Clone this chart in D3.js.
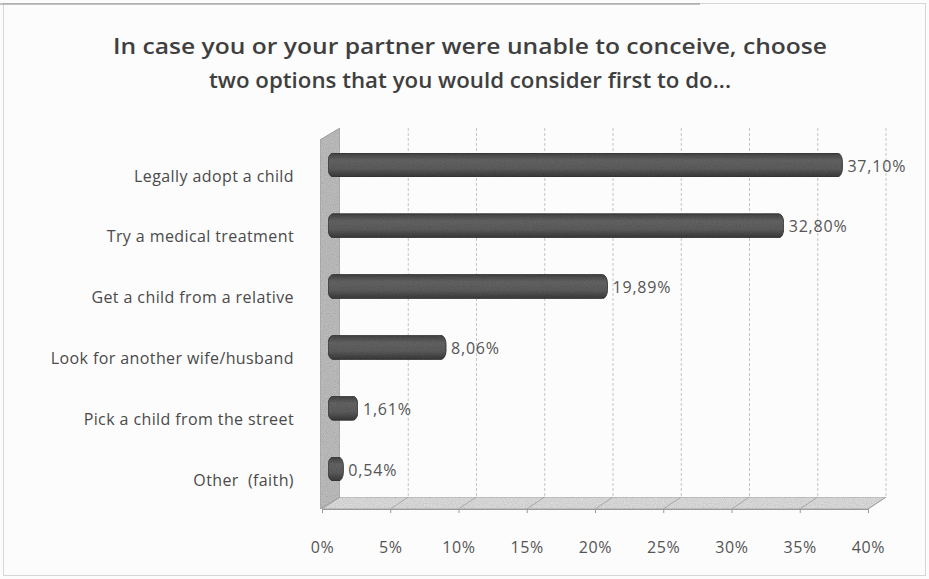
<!DOCTYPE html>
<html>
<head>
<meta charset="utf-8">
<script src="https://cdn.jsdelivr.net/npm/d3@7"></script>
<style>
  body { margin: 0; background: #fff; }
  svg { display: block; font-family: "Open Sans", Lato, sans-serif; }
</style>
</head>
<body>
<svg id="chart" width="929" height="579"></svg>
<script>
// chart data
const categories = [
    "Legally adopt a child",
    "Try a medical treatment",
    "Get a child from a relative",
    "Look for another wife/husband",
    "Pick a child from the street",
    "Other  (faith)"
];
const values = [37.10, 32.80, 19.89, 8.06, 1.61, 0.54];
const valueLabels = ["37,10%", "32,80%", "19,89%", "8,06%", "1,61%", "0,54%"];
const ticks = [0, 5, 10, 15, 20, 25, 30, 35, 40];
const titleLines = [
    "In case you or your partner were unable to conceive, choose",
    "two options that you would consider first to do..."
];

const svg = d3.select("#chart");
const W = 929, H = 579;

// 3d-ish plot box
const floorY = 509, topY = 140;
const depth = {dx: 18, dy: -12};

const x = d3.scaleLinear().domain([0, 40]).range([322, 868]);
const y = d3.scalePoint().domain(categories).range([165, 469]);

const defs = svg.append("defs");

let noise = defs.append("filter").attr("id", "grain")
    .attr("x", 0).attr("y", 0).attr("width", "100%").attr("height", "100%");
noise.append("feTurbulence").attr("type", "fractalNoise")
    .attr("baseFrequency", 0.9).attr("numOctaves", 2).attr("seed", 3).attr("result", "n");
noise.append("feColorMatrix").attr("in", "n").attr("type", "matrix")
    .attr("values", "0 0 0 0 0  0 0 0 0 0  0 0 0 0 0  0 0 0 0.35 0").attr("result", "a");
noise.append("feComposite").attr("in", "a").attr("in2", "SourceGraphic").attr("operator", "in").attr("result", "b");
let merge = noise.append("feMerge");
merge.append("feMergeNode").attr("in", "SourceGraphic");
merge.append("feMergeNode").attr("in", "b");

let grad = defs.append("linearGradient").attr("id", "barGrad")
    .attr("x1", 0).attr("y1", 0).attr("x2", 0).attr("y2", 1);
grad.append("stop").attr("offset", "0%").attr("stop-color", "#474747");
grad.append("stop").attr("offset", "30%").attr("stop-color", "#696969");
grad.append("stop").attr("offset", "65%").attr("stop-color", "#626262");
grad.append("stop").attr("offset", "100%").attr("stop-color", "#3d3d3d");

// background + frame
svg.append("rect").attr("width", W).attr("height", H).attr("fill", "#fcfcfc");
svg.append("rect").attr("x", 3.5).attr("y", 3.5).attr("width", W - 7).attr("height", H - 7)
    .attr("fill", "none").attr("stroke", "#d6d6d6");
svg.append("line").attr("x1", 0).attr("x2", 700).attr("y1", 4).attr("y2", 4)
    .attr("stroke", "#8a8a8a").attr("stroke-width", 1.2);

// title
svg.append("g").selectAll("text").data(titleLines).join("text")
    .attr("x", 470).attr("y", (d, i) => 54 + i * 34)
    .attr("text-anchor", "middle")
    .attr("font-size", 22).attr("font-weight", 600).attr("fill", "#3f3f3f")
    .attr("textLength", (d, i) => i === 0 ? 714 : 522)
    .attr("lengthAdjust", "spacingAndGlyphs")
    .text(d => d);

// floor
const x0 = x(0), x1 = x(40);
svg.append("polygon")
    .attr("points", [[x0, floorY], [x1, floorY], [x1 + depth.dx, floorY + depth.dy], [x0 + depth.dx, floorY + depth.dy]].join(" "))
    .attr("fill", "#e6e6e6").attr("stroke", "#b5b5b5").attr("filter", "url(#grain)");

// left wall
svg.append("polygon")
    .attr("points", [[x0 - 2, floorY], [x0 + depth.dx, floorY + depth.dy], [x0 + depth.dx, topY + depth.dy], [x0 - 2, topY]].join(" "))
    .attr("fill", "#c6c6c6").attr("stroke", "#ababab").attr("filter", "url(#grain)");

// gridlines on back wall + floor
const grid = svg.append("g");
grid.selectAll("line.v").data(ticks.slice(1)).join("line")
    .attr("class", "v")
    .attr("x1", d => x(d) + depth.dx).attr("x2", d => x(d) + depth.dx)
    .attr("y1", topY + depth.dy).attr("y2", floorY + depth.dy)
    .attr("stroke", "#c4c4c4").attr("stroke-dasharray", "3,2");
grid.selectAll("line.f").data(ticks.slice(1)).join("line")
    .attr("class", "f")
    .attr("x1", d => x(d)).attr("x2", d => x(d) + depth.dx)
    .attr("y1", floorY).attr("y2", floorY + depth.dy)
    .attr("stroke", "#a8a8a8");

// x axis (front floor edge)
const axis = svg.append("g").attr("transform", `translate(0,${floorY})`)
    .call(d3.axisBottom(x).tickValues(ticks).tickSize(4).tickPadding(29).tickFormat(d => d + "%"));
axis.select(".domain").attr("stroke", "#9a9a9a");
axis.selectAll(".tick line").attr("stroke", "#9a9a9a");
axis.selectAll(".tick text").attr("fill", "#555").attr("font-size", 16)
    .attr("letter-spacing", 0.6)
    .attr("font-family", "'Open Sans', sans-serif");

// category labels
svg.append("g").selectAll("text").data(categories).join("text")
    .attr("x", 294).attr("y", d => y(d) + 11)
    .attr("dy", "0.35em").attr("text-anchor", "end")
    .style("white-space", "pre")
    .attr("font-size", 16).attr("letter-spacing", 0.4).attr("fill", "#4a4a4a")
    .text(d => d);

// bars (cylinders)
const barH = 24;
const mid = {dx: depth.dx / 2, dy: depth.dy / 2};
svg.append("g").selectAll("rect").data(values).join("rect")
    .attr("x", x(0) + mid.dx - 3)
    .attr("y", (d, i) => y(categories[i]) - barH / 2)
    .attr("width", d => x(d) - x(0) + 8)
    .attr("height", barH)
    .attr("rx", 5).attr("ry", 9)
    .attr("fill", "url(#barGrad)")
    .attr("stroke", "#333").attr("stroke-width", 0.8)
    .attr("filter", "url(#grain)");

// value labels
svg.append("g").selectAll("text").data(values).join("text")
    .attr("x", d => x(d) + mid.dx + 5 + 5)
    .attr("y", (d, i) => y(categories[i]) + 1)
    .attr("dy", "0.35em")
    .attr("font-size", 16).attr("letter-spacing", 0.8).attr("fill", "#555")
    .text((d, i) => valueLabels[i]);
</script>
</body>
</html>
